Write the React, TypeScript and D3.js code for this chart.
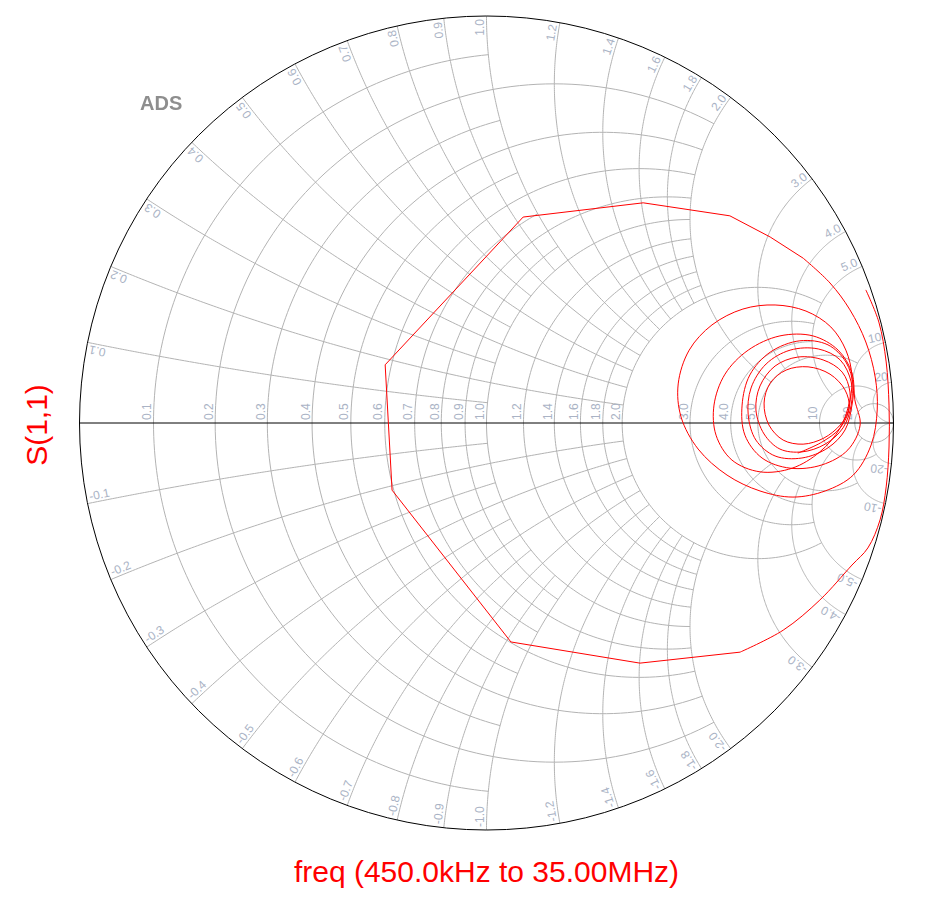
import React, { useMemo } from "react";
import * as d3 from "d3";

const W = 926;
const H = 912;
const CX = 486.5;
const CY = 423;
const RAD = 407;

// Smith chart grid values (normalised impedance) and the extent each line is drawn to
const rValues = [0.1, 0.2, 0.3, 0.4, 0.5, 0.6, 0.7, 0.8, 0.9, 1.0, 1.2, 1.4, 1.6, 1.8, 2.0, 3, 4, 5, 10, 20];
const rLimit = [1, 2, 1, 2, 1, 2, 1, 2, 1, 2, 2, 2, 2, 2, 5, 5, 5, 10, 20, Infinity];
const xValues = [0.1, 0.2, 0.3, 0.4, 0.5, 0.6, 0.7, 0.8, 0.9, 1.0, 1.2, 1.4, 1.6, 1.8, 2.0, 3, 4, 5, 10, 20];
const xLimit = [1, 2, 1, 2, 1, 2, 1, 2, 1, 2, 2, 2, 2, 2, 5, 5, 5, 10, 20, Infinity];
const gridLabels = ["0.1", "0.2", "0.3", "0.4", "0.5", "0.6", "0.7", "0.8", "0.9", "1.0", "1.2", "1.4", "1.6", "1.8", "2.0", "3.0", "4.0", "5.0", "10", "20"];

// S(1,1) trace, reflection coefficient (real, imaginary), 450 kHz .. 35 MHz
const s11Re = [
  0.932, 0.964, 0.982, 0.989, 0.989, 0.982, 0.967, 0.937, 0.898, 0.819,
  0.729, 0.623, 0.377, 0.060, -0.232, -0.249, 0.090, 0.385, 0.598, 0.697,
  0.778, 0.844, 0.893, 0.932, 0.955, 0.960, 0.945, 0.901, 0.832, 0.753,
  0.672, 0.591, 0.520, 0.478, 0.471, 0.498, 0.554, 0.630, 0.709, 0.785,
  0.846, 0.883, 0.898, 0.893, 0.869, 0.819, 0.751, 0.672, 0.603, 0.564,
  0.559, 0.586, 0.643, 0.721, 0.802, 0.864, 0.898, 0.905, 0.918, 0.888,
  0.824, 0.746, 0.677, 0.635, 0.628, 0.647, 0.697, 0.770, 0.839, 0.883,
  0.901, 0.898, 0.881, 0.839, 0.775, 0.709, 0.662, 0.643, 0.650, 0.687,
  0.746, 0.815, 0.869, 0.896, 0.896, 0.876, 0.832, 0.775, 0.721, 0.682,
  0.662, 0.672, 0.709, 0.765, 0.827, 0.874, 0.893, 0.888, 0.869, 0.829,
  0.778, 0.729, 0.694, 0.682, 0.697, 0.736, 0.790, 0.844, 0.881, 0.891,
  0.869, 0.824, 0.765,
];
const s11Im = [
  0.327, 0.248, 0.150, 0.044, -0.059, -0.157, -0.238, -0.307, -0.349, -0.435,
  -0.509, -0.563, -0.590, -0.538, -0.165, 0.143, 0.506, 0.541, 0.509, 0.457,
  0.405, 0.344, 0.278, 0.199, 0.113, 0.032, -0.054, -0.128, -0.167, -0.182,
  -0.167, -0.128, -0.064, 0.015, 0.096, 0.179, 0.241, 0.280, 0.290, 0.275,
  0.236, 0.179, 0.116, 0.057, -0.012, -0.071, -0.111, -0.120, -0.091, -0.030,
  0.044, 0.120, 0.179, 0.214, 0.214, 0.179, 0.123, 0.057, -0.005, -0.066,
  -0.103, -0.111, -0.086, -0.030, 0.044, 0.118, 0.174, 0.202, 0.192, 0.150,
  0.093, 0.044, -0.017, -0.061, -0.086, -0.081, -0.042, 0.020, 0.086, 0.145,
  0.179, 0.182, 0.155, 0.101, 0.044, -0.012, -0.052, -0.071, -0.064, -0.027,
  0.032, 0.091, 0.140, 0.162, 0.155, 0.125, 0.076, 0.027, -0.005, -0.037,
  -0.052, -0.042, -0.005, 0.049, 0.098, 0.130, 0.138, 0.120, 0.081, 0.037,
  -0.012, -0.047, -0.074,
];
// samples spanning the fast resonance sweep (drawn as straight chords)
const fastStart = 11;
const fastEnd = 20;

const gx = d3.scaleLinear().domain([-1, 1]).range([CX - RAD, CX + RAD]);
const gy = d3.scaleLinear().domain([-1, 1]).range([CY + RAD, CY - RAD]);

type P = [number, number];

function gamma(r: number, x: number): P {
  if (!isFinite(r) || !isFinite(x)) return [1, 0];
  const d = (r + 1) * (r + 1) + x * x;
  return [(r * r - 1 + x * x) / d, (2 * x) / d];
}

function arcPoints(cx: number, cy: number, rad: number, A: P, B: P, M: P, n = 160): P[] {
  const TAU = Math.PI * 2;
  const norm = (t: number) => ((t % TAU) + TAU) % TAU;
  const a0 = Math.atan2(A[1] - cy, A[0] - cx);
  const dB = norm(Math.atan2(B[1] - cy, B[0] - cx) - a0);
  const dM = norm(Math.atan2(M[1] - cy, M[0] - cx) - a0);
  const span = dM < dB ? dB : dB - TAU;
  const pts: P[] = [];
  for (let i = 0; i <= n; i++) {
    const t = a0 + (span * i) / n;
    pts.push([cx + rad * Math.cos(t), cy + rad * Math.sin(t)]);
  }
  return pts;
}

const line = d3
  .line<P>()
  .x((d) => gx(d[0]))
  .y((d) => gy(d[1]));

const smooth = d3
  .line<P>()
  .x((d) => gx(d[0]))
  .y((d) => gy(d[1]))
  .curve(d3.curveCatmullRom.alpha(0.5));

const LABEL_COLOR = "#aab3c5";
const GRID_COLOR = "#b3b3b3";
const FONT = "'Liberation Sans', Arial, sans-serif";

export default function App() {
  const grid = useMemo(() => {
    const paths: string[] = [];
    const circles: { cx: number; cy: number; r: number }[] = [];
    rValues.forEach((r, i) => {
      const L = rLimit[i];
      const c = r / (r + 1);
      const rad = 1 / (r + 1);
      if (!isFinite(L)) {
        circles.push({ cx: gx(c), cy: gy(0), r: rad * RAD });
      } else {
        const pts = arcPoints(c, 0, rad, gamma(r, L), gamma(r, -L), gamma(r, 0));
        paths.push(line(pts) as string);
      }
    });
    xValues.forEach((xv, i) => {
      const L = xLimit[i];
      [xv, -xv].forEach((x) => {
        const cy = 1 / x;
        const rad = 1 / Math.abs(x);
        const A = gamma(0, x);
        const B = gamma(L, x);
        const M = gamma(isFinite(L) ? L / 2 : 1, x);
        const pts = arcPoints(1, cy, rad, A, B, M);
        paths.push(line(pts) as string);
      });
    });
    return { paths, circles };
  }, []);

  const trace = useMemo(() => {
    const pts: P[] = s11Re.map((re, i) => [re, s11Im[i]]);
    return [
      smooth(pts.slice(0, fastStart + 1)) as string,
      line(pts.slice(fastStart, fastEnd + 1)) as string,
      smooth(pts.slice(fastEnd)) as string,
    ];
  }, []);

  const axisLabels = rValues.map((r, i) => {
    const px = gx((r - 1) / (r + 1));
    return (
      <text
        key={"ra" + i}
        transform={`translate(${px},${CY}) rotate(-90)`}
        x={3}
        y={-2.5}
        fontSize={12}
        fill={LABEL_COLOR}
        fontFamily={FONT}
      >
        {gridLabels[i]}
      </text>
    );
  });

  const rimLabels: JSX.Element[] = [];
  xValues.forEach((xv, i) => {
    [1, -1].forEach((sgn) => {
      const g = gamma(0, sgn * xv);
      const phi = (Math.atan2(g[1], g[0]) * 180) / Math.PI;
      const px = gx(g[0]);
      const py = gy(g[1]);
      if (sgn > 0) {
        rimLabels.push(
          <text
            key={"xl" + i}
            transform={`translate(${px},${py}) rotate(${-phi})`}
            x={-3}
            y={-2.5}
            textAnchor="end"
            fontSize={12}
            fill={LABEL_COLOR}
            fontFamily={FONT}
          >
            {gridLabels[i]}
          </text>
        );
      } else {
        rimLabels.push(
          <text
            key={"xn" + i}
            transform={`translate(${px},${py}) rotate(${-phi + 180})`}
            x={3}
            y={-2.5}
            textAnchor="start"
            fontSize={12}
            fill={LABEL_COLOR}
            fontFamily={FONT}
          >
            {"-" + gridLabels[i]}
          </text>
        );
      }
    });
  });

  return (
    <svg
      width={W}
      height={H}
      viewBox={`0 0 ${W} ${H}`}
      style={{ position: "absolute", left: 0, top: 0, background: "#fff" }}
    >
      <defs>
        <clipPath id="unit">
          <circle cx={CX} cy={CY} r={RAD} />
        </clipPath>
        <filter id="soft" x="-10%" y="-20%" width="120%" height="140%">
          <feGaussianBlur stdDeviation="0.5" />
        </filter>
      </defs>
      <rect x={0} y={0} width={W} height={H} fill="#fff" />
      <g clipPath="url(#unit)" fill="none" stroke={GRID_COLOR} strokeWidth={1}>
        {grid.paths.map((d, i) => (
          <path key={i} d={d} />
        ))}
        {grid.circles.map((c, i) => (
          <circle key={"c" + i} cx={c.cx} cy={c.cy} r={c.r} />
        ))}
      </g>
      <g>{axisLabels}</g>
      <g>{rimLabels}</g>
      <line x1={gx(-1)} x2={gx(1)} y1={gy(0)} y2={gy(0)} stroke="#000" strokeWidth={1} />
      <circle cx={CX} cy={CY} r={RAD} fill="none" stroke="#000" strokeWidth={1} />
      <g fill="none" stroke="#ff0000" strokeWidth={1}>
        {trace.map((d, i) => (
          <path key={"t" + i} d={d} />
        ))}
      </g>
      <text
        x={140}
        y={110}
        fontSize={20}
        fontWeight="bold"
        fill="#8e8e8e"
        fontFamily={FONT}
        filter="url(#soft)"
      >
        ADS
      </text>
      <text
        transform={`translate(47,425) rotate(-90)`}
        textAnchor="middle"
        fontSize={30}
        fill="#ff0000"
        fontFamily={FONT}
      >
        S(1,1)
      </text>
      <text x={CX} y={882} textAnchor="middle" fontSize={30} fill="#ff0000" fontFamily={FONT}>
        freq (450.0kHz to 35.00MHz)
      </text>
    </svg>
  );
}
